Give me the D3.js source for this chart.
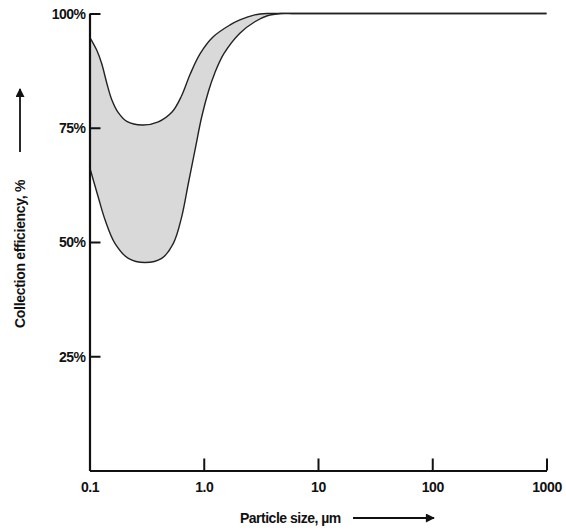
<!DOCTYPE html>
<html><head><meta charset="utf-8">
<script src="https://cdn.jsdelivr.net/npm/d3@7"></script>
<style>body{margin:0;background:#fff}svg{display:block}text{font-family:"Liberation Sans",Arial,sans-serif;font-weight:bold;fill:#111}</style>
</head><body>
<svg id="c" width="566" height="531"></svg>
<script>
// particle size (µm) and efficiency (%) for the two boundary curves
const upperSize = [0.1, 0.1156, 0.128, 0.1416, 0.1564, 0.1787, 0.212, 0.29, 0.40, 0.53, 0.64, 0.76, 0.93, 1.21, 1.70, 2.07, 2.8, 3.6, 4.5, 6, 10, 100, 1000];
const upperEff  = [94.9, 92.0, 89.0, 84.8, 81.2, 78.3, 76.4, 75.6, 76.3, 78.5, 82.0, 86.7, 91.2, 94.9, 97.5, 98.6, 99.7, 100, 100, 100, 100, 100, 100];
const lowerSize = [0.1, 0.119, 0.137, 0.167, 0.219, 0.306, 0.428, 0.542, 0.641, 0.733, 0.838, 0.96, 1.10, 1.25, 1.50, 2.07, 2.8, 3.6, 4.7, 6, 10, 100, 1000];
const lowerEff  = [66.5, 59.9, 54.8, 49.7, 46.4, 45.5, 46.4, 49.7, 55.5, 62.8, 70.1, 77.4, 83.0, 87.0, 91.2, 95.7, 98.2, 99.5, 100, 100, 100, 100, 100];
const xTicks = [0.1, 1, 10, 100, 1000];
const xTickLabels = ["0.1", "1.0", "10", "100", "1000"];
const yTicks = [25, 50, 75, 100];
const yTickLabels = ["25%", "50%", "75%", "100%"];

const svg = d3.select("#c");
const x = d3.scaleLog().domain([0.1, 1000]).range([89.5, 546.5]);
const y = d3.scaleLinear().domain([0, 100]).range([470.5, 13.5]);

const up = upperSize.map((s, i) => ({s, e: upperEff[i]}));
const lo = lowerSize.map((s, i) => ({s, e: lowerEff[i]}));

const lineGen = d3.line().x(d => x(d.s)).y(d => Math.max(y(d.e), y(100))).curve(d3.curveCatmullRom.alpha(0.5));

const upD = lineGen(up);
const loD = lineGen(lo);
const loRevD = lineGen(lo.slice().reverse());

const fillD = upD + loRevD.replace(/^M/, "L") + "Z";
svg.append("path").attr("d", fillD).attr("fill", "#d9d9d9").attr("stroke", "none");

svg.append("path").attr("d", upD).attr("fill", "none").attr("stroke", "#222").attr("stroke-width", 1.4);
svg.append("path").attr("d", loD).attr("fill", "none").attr("stroke", "#222").attr("stroke-width", 1.4);

// axes
const xAxis = d3.axisBottom(x).tickValues(xTicks).tickSizeInner(-12).tickSizeOuter(0).tickPadding(12)
  .tickFormat((d, i) => xTickLabels[i]);
const gx = svg.append("g").attr("transform", `translate(0,${y(0)})`).call(xAxis);
gx.select(".domain").attr("stroke", "#111").attr("stroke-width", 2.2);
gx.selectAll(".tick line").attr("stroke", "#111").attr("stroke-width", 2);
gx.selectAll("text").attr("font-size", 14).attr("font-family", "Liberation Sans, Arial, sans-serif").attr("font-weight", "bold").attr("fill", "#111").attr("letter-spacing", -0.4);

const yAxis = d3.axisLeft(y).tickValues(yTicks).tickSizeInner(-11).tickSizeOuter(0).tickPadding(4)
  .tickFormat((d, i) => yTickLabels[i]);
const gy = svg.append("g").attr("transform", `translate(${x(0.1)},0)`).call(yAxis);
gy.select(".domain").attr("stroke", "#111").attr("stroke-width", 2.2);
gy.selectAll(".tick line").attr("stroke", "#111").attr("stroke-width", 2);
gy.selectAll("text").attr("font-size", 14).attr("font-family", "Liberation Sans, Arial, sans-serif").attr("font-weight", "bold").attr("fill", "#111").attr("letter-spacing", -0.5).attr("dy", "0.35em");

// arrow marker
svg.append("defs").append("marker").attr("id", "ah").attr("viewBox", "0 0 10 10").attr("refX", 9).attr("refY", 5)
  .attr("markerWidth", 11).attr("markerHeight", 9).attr("markerUnits", "userSpaceOnUse").attr("orient", "auto")
  .append("path").attr("d", "M0,0L10,5L0,10Z").attr("fill", "#111");

// x title
svg.append("text").attr("x", 240).attr("y", 523).attr("font-size", 14).attr("letter-spacing", -0.5).text("Particle size, µm");
svg.append("line").attr("x1", 353).attr("y1", 518).attr("x2", 434).attr("y2", 518).attr("stroke", "#111").attr("stroke-width", 1.8).attr("marker-end", "url(#ah)");

// y title
svg.append("text").attr("transform", "translate(25,328) rotate(-90)").attr("font-size", 14).attr("letter-spacing", -0.3).text("Collection efficiency, %");
svg.append("line").attr("x1", 20).attr("y1", 152).attr("x2", 20).attr("y2", 89).attr("stroke", "#111").attr("stroke-width", 1.8).attr("marker-end", "url(#ah)");
</script>
</body></html>
